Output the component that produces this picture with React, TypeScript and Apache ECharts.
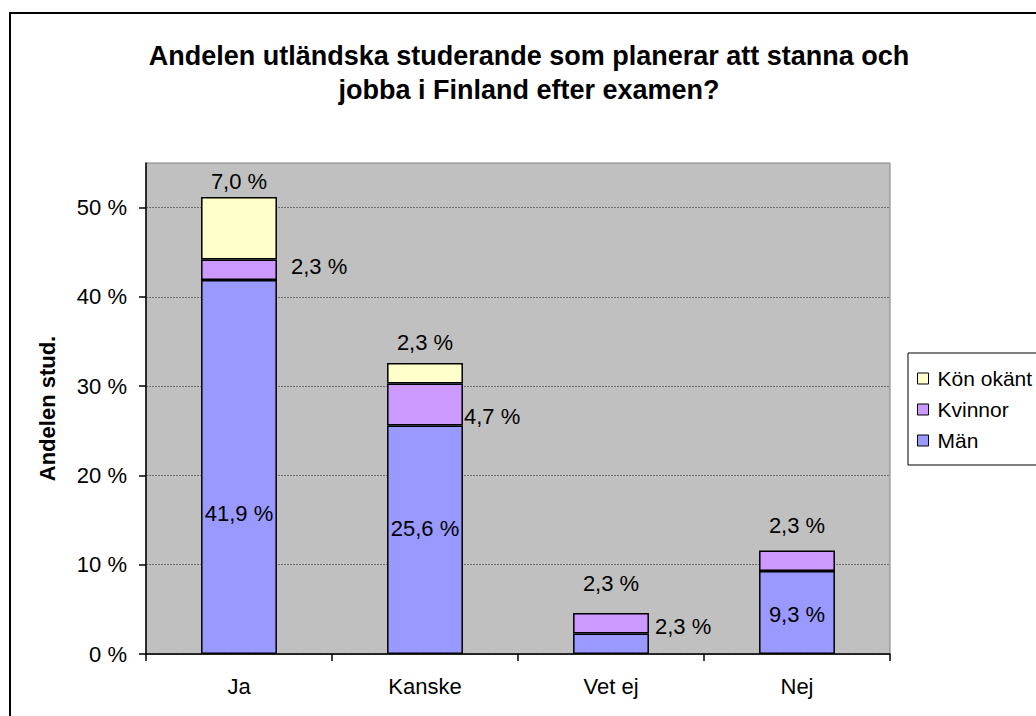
import React, { useEffect, useRef } from "react";
import * as echarts from "echarts";

const categories = ["Ja", "Kanske", "Vet ej", "Nej"];
const manValues = [41.9, 25.6, 2.3, 9.3];
const kvinnorValues = [2.3, 4.7, 2.3, 2.3];
const okantValues = [7.0, 2.3, 0, 0];
const yTickValues = [0, 10, 20, 30, 40, 50];
const seriesNames = ["Män", "Kvinnor", "Kön okänt"];
const titleLines = [
  "Andelen utländska studerande som planerar att stanna och",
  "jobba i Finland efter examen?",
];
const yAxisName = "Andelen stud.";

const FONT = "'Liberation Sans', Arial, sans-serif";
const colors = ["#9999FF", "#CC99FF", "#FFFFCC"];

// per-item label placement (styles only)
const manLabels: any[] = [
  { position: "inside", offset: [0, 47] },
  { position: "inside", offset: [0, -11] },
  { position: "right", distance: 6, offset: [0, -17] },
  { position: "inside", offset: [0, 2] },
];
const kvinnorLabels: any[] = [
  { position: "right", distance: 14, offset: [0, -3] },
  { position: "right", distance: 1, offset: [0, 12] },
  { position: "top", distance: 18 },
  { position: "top", distance: 14 },
];
const okantLabels: any[] = [
  { position: "top", distance: 4 },
  { position: "top", distance: 9 },
  { position: "top", distance: 5 },
  { position: "top", distance: 5 },
];

const fmt = (v: number) => v.toFixed(1).replace(".", ",") + " %";

function buildSeries(name: string, values: number[], labels: any[], color: string) {
  return {
    name,
    type: "bar",
    stack: "total",
    barWidth: "40.8%",
    itemStyle: { color, borderColor: "#000", borderWidth: 1.5 },
    label: {
      show: true,
      color: "#000",
      fontFamily: FONT,
      fontSize: 22,
      formatter: (p: any) => fmt(p.value),
    },
    data: values.map((v, i) =>
      v === 0
        ? null
        : { value: v, label: { show: true, ...labels[i] } }
    ),
  };
}

export default function App() {
  const ref = useRef<HTMLDivElement>(null);
  useEffect(() => {
    if (!ref.current) return;
    const chart = echarts.init(ref.current, undefined, { renderer: "svg" });
    chart.setOption({
      animation: false,
      backgroundColor: "#fff",
      textStyle: { fontFamily: FONT },
      graphic: [
        {
          type: "rect",
          silent: true,
          shape: { x: 10, y: 13, width: 1300, height: 900 },
          style: { fill: "none", stroke: "#000", lineWidth: 2 },
        },
        {
          type: "text",
          x: 529,
          y: 39,
          style: {
            text: titleLines.join("\n"),
            fontFamily: FONT,
            fontWeight: "bold",
            fontSize: 27,
            lineHeight: 34,
            fill: "#000",
            align: "center",
            verticalAlign: "top",
          },
        },
      ],
      legend: {
        orient: "vertical",
        left: 908,
        top: 353,
        data: ["Kön okänt", "Kvinnor", "Män"],
        backgroundColor: "#fff",
        borderColor: "#000",
        borderWidth: 1,
        borderRadius: 0,
        padding: [15, 10, 14, 9],
        itemWidth: 11,
        itemHeight: 11,
        itemGap: 10,
        icon: "rect",
        itemStyle: { borderColor: "#000", borderWidth: 1 },
        textStyle: {
          fontFamily: FONT,
          fontSize: 21,
          color: "#000",
          lineHeight: 21,
          padding: [0, 0, 0, 4],
        },
      },
      grid: {
        left: 146,
        top: 163,
        right: 146,
        bottom: 62,
        show: true,
        backgroundColor: "#C0C0C0",
        borderColor: "#808080",
        borderWidth: 1,
      },
      xAxis: {
        type: "category",
        data: categories,
        axisLine: { lineStyle: { color: "#000", width: 1.5 } },
        axisTick: {
          show: true,
          alignWithLabel: false,
          interval: 0,
          length: 7,
          lineStyle: { color: "#000", width: 1.5 },
        },
        axisLabel: {
          color: "#000",
          fontFamily: FONT,
          fontSize: 22,
          margin: 21,
        },
      },
      yAxis: {
        type: "value",
        min: 0,
        max: 55,
        interval: 10,
        name: yAxisName,
        nameLocation: "middle",
        nameGap: 88,
        nameRotate: 90,
        nameTextStyle: {
          fontFamily: FONT,
          fontWeight: "bold",
          fontSize: 22,
          color: "#000",
        },
        axisLine: { show: true, lineStyle: { color: "#000", width: 1.5 } },
        axisTick: {
          show: true,
          length: 7,
          customValues: yTickValues,
          lineStyle: { color: "#000", width: 1.5 },
        },
        axisLabel: {
          color: "#000",
          fontFamily: FONT,
          fontSize: 22,
          margin: 19,
          customValues: yTickValues,
          formatter: (v: number) => `${v} %`,
        },
        splitLine: {
          show: true,
          lineStyle: { color: "#707070", type: [2, 1], width: 1 },
        },
      },
      series: [
        buildSeries(seriesNames[0], manValues, manLabels, colors[0]),
        buildSeries(seriesNames[1], kvinnorValues, kvinnorLabels, colors[1]),
        buildSeries(seriesNames[2], okantValues, okantLabels, colors[2]),
      ],
    });
    return () => chart.dispose();
  }, []);
  return (
    <div
      ref={ref}
      style={{ position: "fixed", left: 0, top: 0, width: 1036, height: 716 }}
    />
  );
}
